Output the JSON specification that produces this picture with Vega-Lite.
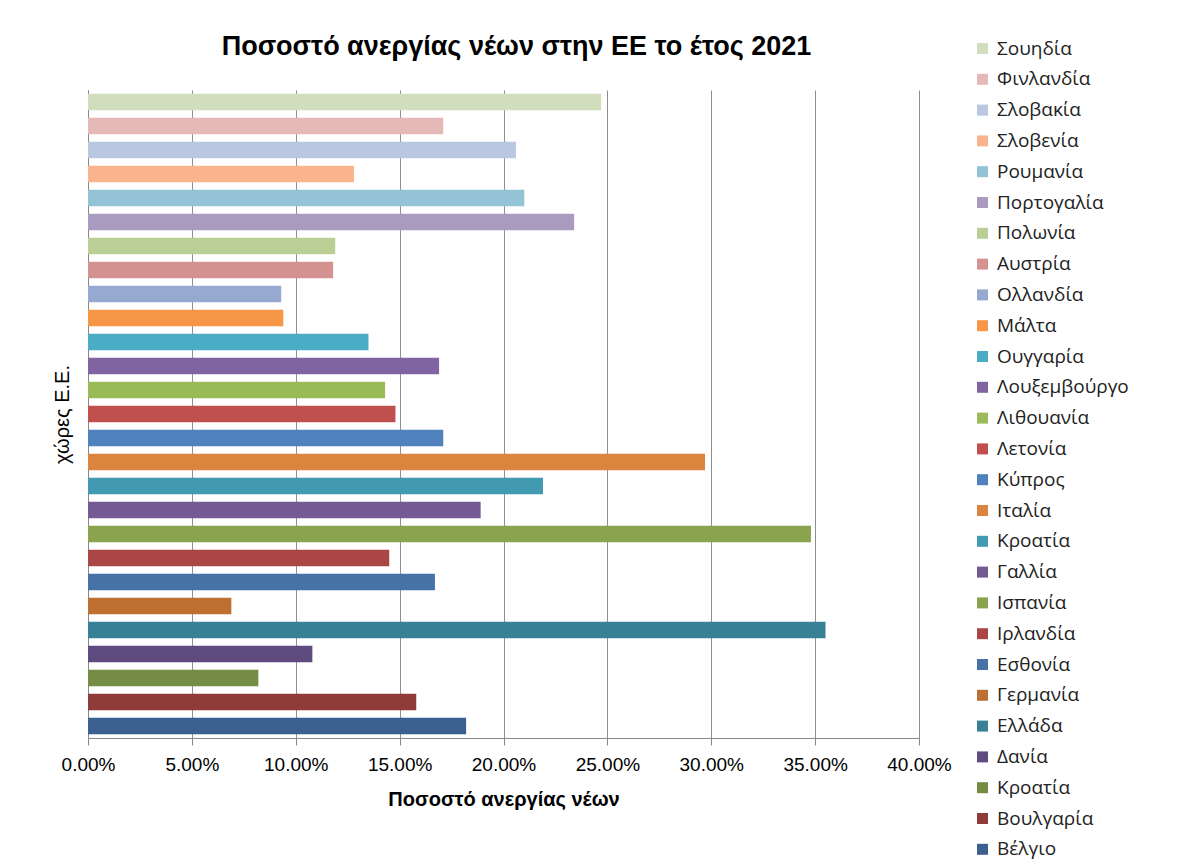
{
  "$schema": "https://vega.github.io/schema/vega-lite/v6.json",
  "width": 831,
  "height": 648,
  "autosize": {"type": "none"},
  "padding": {"left": 88, "top": 90, "right": 275, "bottom": 124},
  "background": "white",
  "title": {
    "text": "Ποσοστό ανεργίας νέων στην ΕΕ το έτος 2021",
    "font": "Liberation Sans",
    "fontSize": 27,
    "fontWeight": "bold",
    "color": "#000000",
    "anchor": "middle",
    "frame": "group",
    "dx": 13,
    "offset": -22
  },
  "config": {
    "view": {"stroke": null},
    "axis": {"labelFont": "Liberation Sans", "titleFont": "Liberation Sans"},
    "legend": {"labelFont": "Open Sans"}
  },
  "data": {
    "values": [
      {"series": "Σουηδία", "rate": 24.7},
      {"series": "Φινλανδία", "rate": 17.1},
      {"series": "Σλοβακία", "rate": 20.6},
      {"series": "Σλοβενία", "rate": 12.8},
      {"series": "Ρουμανία", "rate": 21.0},
      {"series": "Πορτογαλία", "rate": 23.4},
      {"series": "Πολωνία", "rate": 11.9},
      {"series": "Αυστρία", "rate": 11.8},
      {"series": "Ολλανδία", "rate": 9.3},
      {"series": "Μάλτα", "rate": 9.4},
      {"series": "Ουγγαρία", "rate": 13.5},
      {"series": "Λουξεμβούργο", "rate": 16.9},
      {"series": "Λιθουανία", "rate": 14.3},
      {"series": "Λετονία", "rate": 14.8},
      {"series": "Κύπρος", "rate": 17.1},
      {"series": "Ιταλία", "rate": 29.7},
      {"series": "Κροατία", "rate": 21.9},
      {"series": "Γαλλία", "rate": 18.9},
      {"series": "Ισπανία", "rate": 34.8},
      {"series": "Ιρλανδία", "rate": 14.5},
      {"series": "Εσθονία", "rate": 16.7},
      {"series": "Γερμανία", "rate": 6.9},
      {"series": "Ελλάδα", "rate": 35.5},
      {"series": "Δανία", "rate": 10.8},
      {"series": "Κροατία (2)", "rate": 8.2},
      {"series": "Βουλγαρία", "rate": 15.8},
      {"series": "Βέλγιο", "rate": 18.2}
    ]
  },
  "mark": {"type": "bar"},
  "encoding": {
    "y": {
      "field": "series",
      "type": "nominal",
      "sort": null,
      "scale": {"paddingInner": 0.32, "paddingOuter": 0.16},
      "axis": {
        "title": "χώρες Ε.Ε.",
        "titleFontSize": 20,
        "titleFontWeight": "normal",
        "titleColor": "#000000",
        "titlePadding": 16,
        "labels": false,
        "ticks": false,
        "domainColor": "#868686",
        "domainWidth": 1
      }
    },
    "x": {
      "field": "rate",
      "type": "quantitative",
      "scale": {"domain": [0, 40], "nice": false},
      "axis": {
        "values": [0, 5, 10, 15, 20, 25, 30, 35, 40],
        "labelExpr": "format(datum.value, '.2f') + '%'",
        "labelFlush": false,
        "title": "Ποσοστό ανεργίας νέων",
        "titleFontSize": 20,
        "titleFontWeight": "bold",
        "titleColor": "#000000",
        "titlePadding": 15,
        "labelFontSize": 19,
        "labelColor": "#000000",
        "labelPadding": 10,
        "tickSize": 7,
        "tickColor": "#868686",
        "domainColor": "#868686",
        "grid": true,
        "gridColor": "#8E8E8E",
        "gridWidth": 1
      }
    },
    "color": {
      "field": "series",
      "type": "nominal",
      "scale": {
        "domain": ["Σουηδία", "Φινλανδία", "Σλοβακία", "Σλοβενία", "Ρουμανία", "Πορτογαλία", "Πολωνία", "Αυστρία", "Ολλανδία", "Μάλτα", "Ουγγαρία", "Λουξεμβούργο", "Λιθουανία", "Λετονία", "Κύπρος", "Ιταλία", "Κροατία", "Γαλλία", "Ισπανία", "Ιρλανδία", "Εσθονία", "Γερμανία", "Ελλάδα", "Δανία", "Κροατία (2)", "Βουλγαρία", "Βέλγιο"],
        "range": ["#D1DEBE", "#E5B9B8", "#B9C7E1", "#F9B48E", "#93C3D5", "#A99BBF", "#BACF95", "#D49391", "#95A9D1", "#F79646", "#4BACC6", "#8064A2", "#9BBB59", "#C0504D", "#4F81BD", "#DB843E", "#4299B2", "#735A93", "#8AA44E", "#AA4744", "#4672A8", "#BD7032", "#378096", "#5F4B7F", "#748C43", "#8E3B39", "#3B5F8E"]
      },
      "legend": {
        "title": null,
        "orient": "none",
        "legendX": 885,
        "legendY": -51,
        "symbolType": "square",
        "symbolSize": 121,
        "symbolStrokeWidth": 0,
        "symbolOpacity": 1,
        "labelFontSize": 19,
        "labelColor": "#222222",
        "labelOffset": 5,
        "rowPadding": 10.8,
        "padding": 0,
        "labelExpr": "replace(datum.label, / \\(2\\)$/, '')"
      }
    }
  }
}
